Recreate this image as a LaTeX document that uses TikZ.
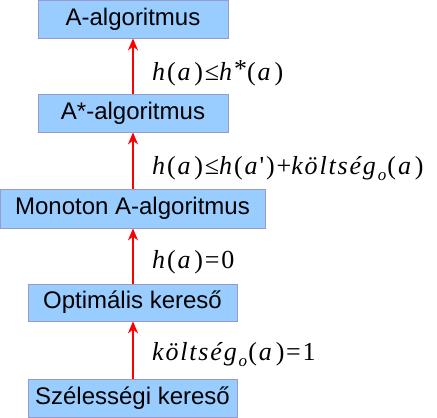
\documentclass[tikz,border=0pt]{standalone}
\usepackage{fontspec}
\setmainfont{Liberation Sans}
\newfontfamily\eqfont[LetterSpace=7]{Liberation Serif}
\usetikzlibrary{arrows.meta}
\definecolor{boxfill}{HTML}{99CCFF}
\definecolor{boxline}{HTML}{9999CC}
\newcommand\vv[1]{\textit{#1}}
\newcommand\pa[1]{(\kern2pt#1\kern2pt)}
\newcommand\idx[1]{\raisebox{-6pt}{\fontsize{17}{20}\selectfont\vv{#1}}}

\tikzset{algbox/.style={rectangle, draw=boxline, fill=boxfill, line width=0.8pt,
                        inner sep=0pt, font=\fontsize{24}{28}\selectfont},
         cond/.style={anchor=base west, inner sep=0pt,
                       font=\eqfont\fontsize{26}{30}\selectfont},
         impl/.style={red, line width=2pt, -{Stealth[length=12pt,width=10pt]}}}

\begin{document}
\begin{tikzpicture}[x=1pt,y=-1pt]
  \useasboundingbox (0,0) rectangle (437,418);
  \node[algbox, minimum width=190pt, minimum height=38pt] (a)      at (133,19)    {A-algoritmus};
  \node[algbox, minimum width=190pt, minimum height=38pt] (astar)  at (133,113)   {A*-algoritmus};
  \node[algbox, minimum width=265pt, minimum height=39pt] (mono)   at (132.5,208.5) {Monoton A-algoritmus};
  \node[algbox, minimum width=209pt, minimum height=37pt] (opt)    at (132.5,302.5) {Optimális kereső};
  \node[algbox, minimum width=209pt, minimum height=38pt] (szel)   at (132.5,398)   {Szélességi kereső};

  \draw[impl] (astar.north -| a) -- (a.south);
  \draw[impl] (mono.north -| a) -- (astar.south -| a);
  \draw[impl] (opt.north -| a) -- (mono.south -| a);
  \draw[impl] (szel.north -| a) -- (opt.south -| a);

  \node[cond] (c1) at (152,80)  {\vv{h}\pa{\vv{a}}≤\vv{h}\raisebox{3pt}{*}\pa{\vv{a}}};
  \node[cond] (c2) at (152,174) {\vv{h}\pa{\vv{a}}≤\vv{h}\pa{\vv{a}'}+\vv{költség}\idx{o}\pa{\vv{a}}};
  \node[cond] (c3) at (152,268) {\vv{h}\pa{\vv{a}}=0};
  \node[cond] (c4) at (152,360) {\vv{költség}\idx{o}\pa{\vv{a}}=1};
\end{tikzpicture}
\end{document}
